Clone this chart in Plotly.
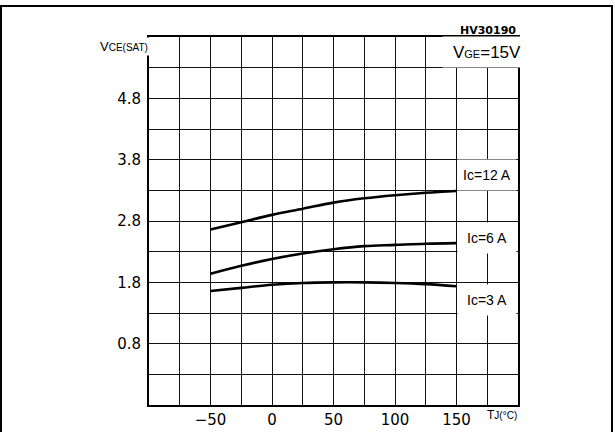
import plotly.graph_objects as go

temps = [-50, -25, 0, 25, 50, 75, 100, 125, 150]
vce_12a = [2.66, 2.78, 2.90, 3.00, 3.10, 3.17, 3.22, 3.26, 3.29]
vce_6a = [1.94, 2.07, 2.18, 2.27, 2.34, 2.39, 2.41, 2.43, 2.44]
vce_3a = [1.66, 1.71, 1.76, 1.79, 1.80, 1.80, 1.79, 1.77, 1.735]
series_labels = ["Ic=12 A", "Ic=6 A", "Ic=3 A"]
label_y = [3.55, 2.53, 1.52]

x_grid = list(range(-100, 201, 25))
x_labeled = [-50, 0, 50, 100, 150]
y_grid = [round(-0.2 + 0.5 * i, 2) for i in range(13)]
y_labeled = [0.8, 1.8, 2.8, 3.8, 4.8]

FONT = "Liberation Sans, Arial, sans-serif"
TICKFONT = "DejaVu Sans, sans-serif"

fig = go.Figure()
for ys in (vce_12a, vce_6a, vce_3a):
    fig.add_trace(go.Scatter(x=temps, y=ys, mode="lines",
                             line=dict(color="black", width=2.6, shape="spline"),
                             showlegend=False, hoverinfo="skip"))

fig.update_xaxes(range=[-100, 200], tickvals=x_grid,
                 ticktext=[str(v).replace("-", "\u2212") if v in x_labeled else "" for v in x_grid],
                 showgrid=True, gridcolor="#111", gridwidth=1,
                 showline=True, linecolor="black", linewidth=2, mirror=True,
                 ticks="", zeroline=False, automargin=False,
                 tickfont=dict(family=TICKFONT, size=15, color="black"))
fig.update_yaxes(range=[-0.2, 5.8], tickvals=y_grid,
                 ticktext=[f"{v:.1f}" if any(abs(v - t) < 1e-6 for t in y_labeled) else "" for v in y_grid],
                 showgrid=True, gridcolor="#111", gridwidth=1,
                 showline=True, linecolor="black", linewidth=2, mirror=True,
                 ticks="", zeroline=False, ticklabelstandoff=3, automargin=False,
                 tickfont=dict(family=TICKFONT, size=15, color="black"))

annotations = []
for lab, yv in zip(series_labels, label_y):
    annotations.append(dict(x=175, y=yv, xref="x", yref="y", text=lab, showarrow=False,
                            bgcolor="white", width=56, height=28,
                            font=dict(family=FONT, size=14, color="black")))
annotations.append(dict(x=175, y=5.55, xref="x", yref="y",
                        text="V<span style='font-size:11px'>GE</span>=15V",
                        showarrow=False, bgcolor="white", width=86, height=28,
                        font=dict(family=FONT, size=17, color="black")))
annotations.append(dict(x=1, y=1, xref="paper", yref="paper", yanchor="bottom", xanchor="right",
                        yshift=-2,
                        text="<b>HV30190</b>", showarrow=False,
                        font=dict(family=TICKFONT, size=11, color="black")))
annotations.append(dict(x=0, y=0.975, xref="paper", yref="paper", xanchor="right", yanchor="middle",
                        xshift=1,
                        text="V<span style='font-size:10px'>CE(SAT)</span>", showarrow=False,
                        bgcolor="white",
                        font=dict(family=FONT, size=13, color="black")))
annotations.append(dict(x=1.0, y=0, xref="paper", yref="paper", xanchor="center", yanchor="top",
                        yshift=-1, xshift=-16,
                        text="T<span style='font-size:10px'>J</span><span style='font-size:10px'>(\u00b0C)</span>",
                        showarrow=False,
                        font=dict(family=FONT, size=12, color="black")))

fig.update_layout(width=615, height=432,
                  margin=dict(l=149, r=97, t=37, b=27, autoexpand=False),
                  plot_bgcolor="white", paper_bgcolor="white",
                  annotations=annotations,
                  shapes=[dict(type="rect", xref="paper", yref="paper",
                               x0=-148 / 369, x1=(612 - 149) / 369,
                               y0=-0.2, y1=1 + 31 / 368,
                               line=dict(color="black", width=2), layer="below")])

fig.write_html("out.html", config={"displayModeBar": False},
               post_script="document.body.style.margin='0';")
